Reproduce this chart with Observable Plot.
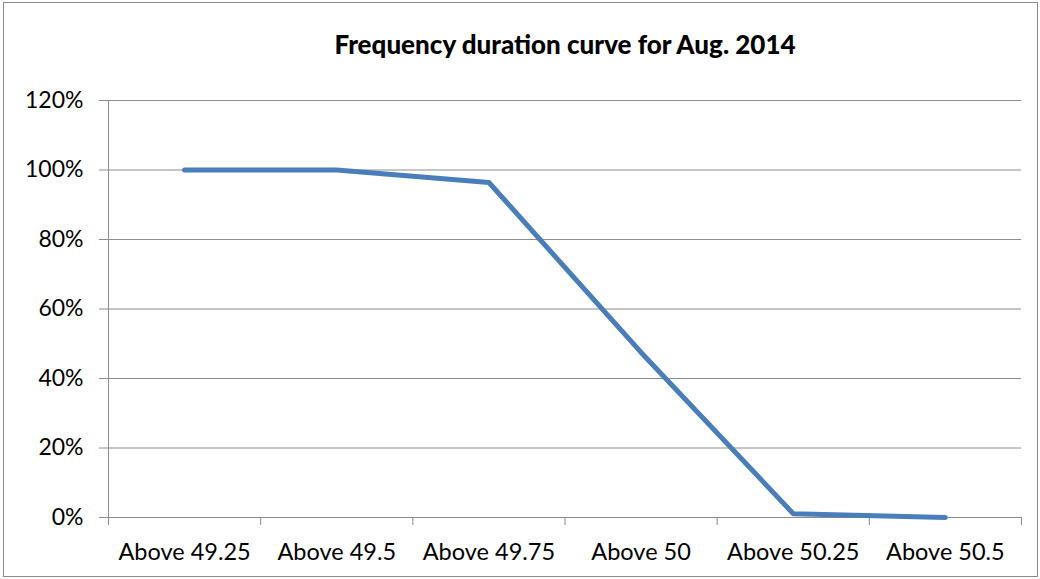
<!DOCTYPE html>
<html>
<head>
<meta charset="utf-8">
<script src="https://cdn.jsdelivr.net/npm/d3@7"></script>
<script src="https://cdn.jsdelivr.net/npm/@observablehq/plot@0.6"></script>
<style>
  html, body { margin: 0; padding: 0; background: white; }
  #wrap { position: relative; width: 1040px; height: 579px; }
  #border { position: absolute; left: 3px; top: 2px; width: 1033px; height: 573px; border: 1px solid #8c8c8c; pointer-events: none; }
</style>
</head>
<body>
<div id="wrap"><div id="border"></div></div>
<script>
const title = "Frequency duration curve for Aug. 2014";
const categories = ["Above 49.25", "Above 49.5", "Above 49.75", "Above 50", "Above 50.25", "Above 50.5"];
const values = [100, 100, 96.4, 47.5, 1.1, 0];
const yTicks = [0, 20, 40, 60, 80, 100, 120];
const xBoundaries = [0, 1, 2, 3, 4, 5, 6];

const data = categories.map((c, i) => ({ pos: i + 0.5, label: c, value: values[i] }));
const font = "Lato, 'Liberation Sans', sans-serif";

const chart = Plot.plot({
  width: 1040,
  height: 579,
  marginLeft: 108,
  marginRight: 19,
  marginTop: 100,
  marginBottom: 62,
  style: { fontFamily: font, background: "transparent", color: "#000" },
  x: { domain: [0, 6], axis: null, label: null },
  y: { domain: [0, 120], axis: null, label: null },
  marks: [
    Plot.gridY(yTicks, { stroke: "#8c8c8c", strokeOpacity: 1 }),
    Plot.axisY(yTicks, { tickSize: 9, tickPadding: 16, tickFormat: d => d + "%", stroke: "#8c8c8c", fill: "#000", fontSize: 23, label: null }),
    Plot.ruleX([0], { stroke: "#8c8c8c" }),
    Plot.ruleY([0], { stroke: "#8c8c8c" }),
    Plot.axisX(xBoundaries, { tickSize: 8, tickFormat: () => "", stroke: "#8c8c8c", label: null }),
    Plot.text(data, { x: "pos", y: 0, text: "label", dy: 35, fontSize: 23.5, lineAnchor: "middle", fill: "#000" }),
    Plot.line(data, { x: "pos", y: "value", stroke: "#4a7ebb", strokeWidth: 5, strokeLinecap: "round", strokeLinejoin: "round" }),
    Plot.text([title], { frameAnchor: "top", dy: -55, fontWeight: 900, fontSize: 26, lineAnchor: "middle", fill: "#000" })
  ]
});
document.getElementById("wrap").appendChild(chart);
chart.style.position = "absolute";
chart.style.left = "0";
chart.style.top = "0";
</script>
</body>
</html>
